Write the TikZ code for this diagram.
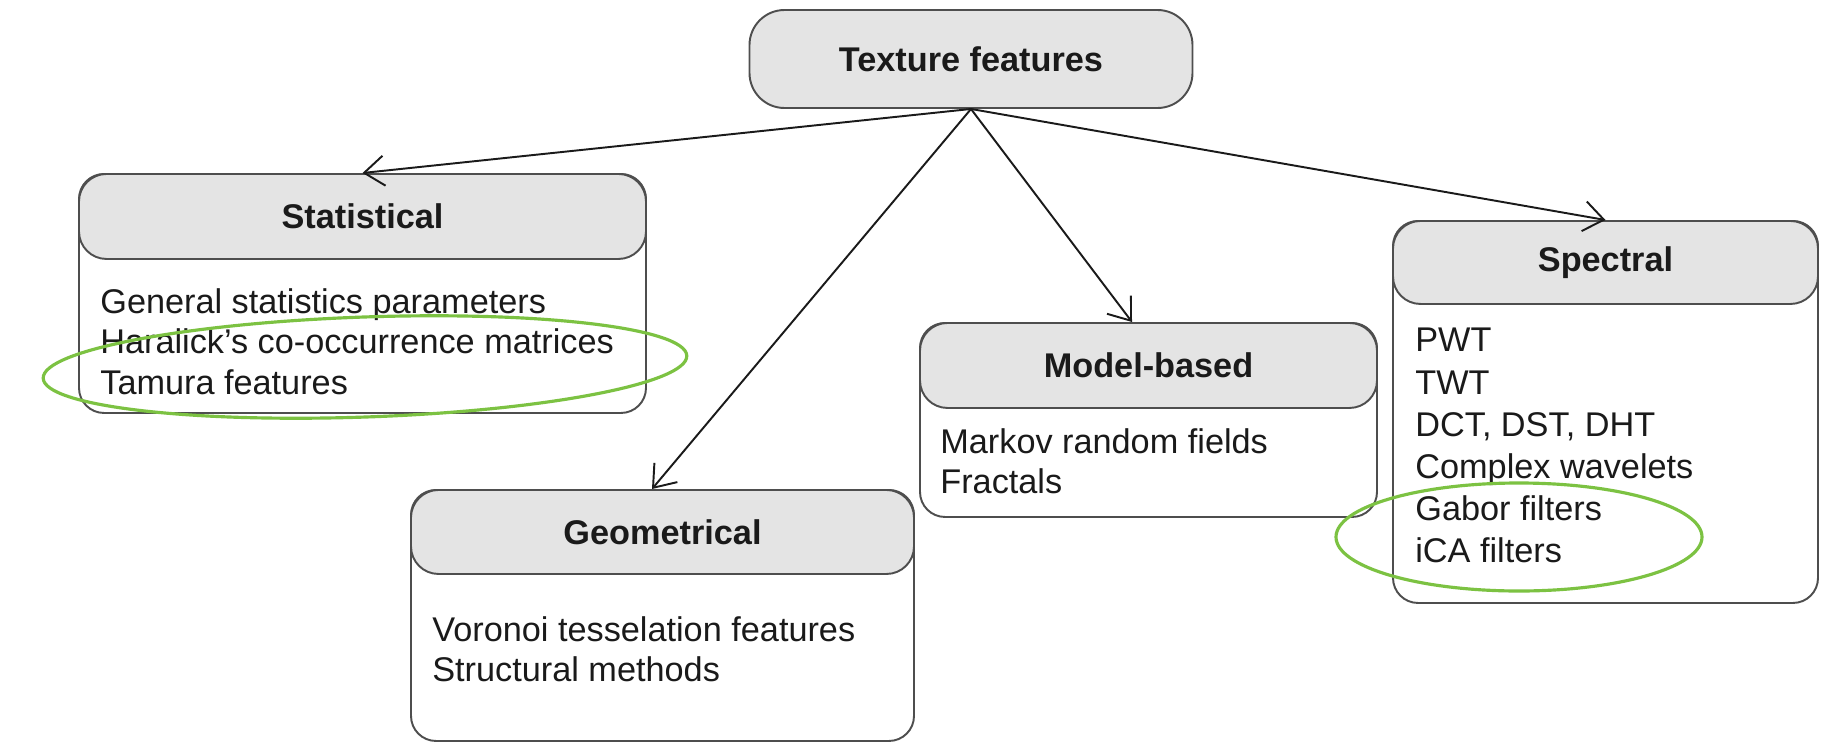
\documentclass[tikz,border=0pt]{standalone}
\usepackage{fontspec}
\setmainfont{Liberation Sans}
\usepackage{xcolor}
\usepackage{tikz}
\usetikzlibrary{arrows.meta,positioning,calc,shapes.geometric}
\definecolor{rim}{HTML}{4E4E4E}
\definecolor{headgray}{HTML}{E4E4E4}
\definecolor{ringgreen}{HTML}{7CC242}
\definecolor{ink}{HTML}{1A1A1A}
\tikzset{
    every picture/.style={line cap=round,line join=round},
    headbox/.style={draw=rim,fill=headgray,line width=1.1pt,rounded corners=5.5mm,
      minimum height=17mm,inner sep=0pt,text=ink,
      font=\fontsize{19.5}{23}\selectfont\bfseries},
    bodybox/.style={draw=rim,fill=white,line width=1.1pt,rounded corners=5mm,
      inner sep=0pt},
    itemlist/.style={align=left,inner sep=0pt,anchor=north west,text=ink,
      font=\fontsize{19.5}{23}\selectfont},
    flowarrow/.style={-{Straight Barb[length=4mm,width=6mm]},draw=ink,
      line width=1.1pt},
    markring/.style={draw=ringgreen,ellipse,line width=1.8pt,inner sep=0pt}
}

\begin{document}
\begin{tikzpicture}
  \useasboundingbox (0,0) rectangle (36.5,-14.86);
  \node[headbox,minimum width=88.6mm,minimum height=19.6mm,rounded corners=7mm] (top) at (19.42,-1.18) {Texture features};

  \node[bodybox,minimum width=113.4mm,minimum height=47.8mm,anchor=north] (statbody) at (7.25,-3.46) {};
  \node[headbox,minimum width=113.4mm,anchor=north] (stat) at (statbody.north) {Statistical};
  \node[itemlist] (statlist) at (2.0,-5.76) {General statistics parameters\\Haralick's co-occurrence matrices\\Tamura features};

  \node[bodybox,minimum width=100.6mm,minimum height=50.2mm,anchor=north] (geombody) at (13.25,-9.78) {};
  \node[headbox,minimum width=100.6mm,minimum height=16.8mm,anchor=north] (geom) at (geombody.north) {Geometrical};
  \node[itemlist] (geomlist) at (8.64,-12.32) {Voronoi tesselation features\\Structural methods};

  \node[bodybox,minimum width=91.4mm,minimum height=38.8mm,anchor=north] (modelbody) at (22.97,-6.44) {};
  \node[headbox,minimum width=91.4mm,anchor=north] (model) at (modelbody.north) {Model-based};
  \node[itemlist] (modellist) at (18.8,-8.56) {Markov random fields\\Fractals};

  \node[bodybox,minimum width=85mm,minimum height=76.4mm,anchor=north] (specbody) at (32.11,-4.4) {};
  \node[headbox,minimum width=85mm,minimum height=16.6mm,anchor=north] (spec) at (specbody.north) {Spectral};
  \node[itemlist,font=\fontsize{19.5}{24}\selectfont] (speclist) at (28.3,-6.56) {PWT\\TWT\\DCT, DST, DHT\\Complex wavelets\\Gabor filters\\iCA filters};

  \draw[flowarrow] (top.south) -- (stat.north);
  \draw[flowarrow] (top.south) -- ($(geom.north)+(-0.21,0)$);
  \draw[flowarrow] (top.south) -- ($(model.north)+(-0.33,0)$);
  \draw[flowarrow] (top.south) -- (spec.north);

  \node[markring,minimum width=128.8mm,minimum height=20mm,rotate=2] (statring) at (7.3,-7.34) {};
  \node[markring,minimum width=73.2mm,minimum height=21.6mm] (specring) at (30.38,-10.74) {};
\end{tikzpicture}
\end{document}
